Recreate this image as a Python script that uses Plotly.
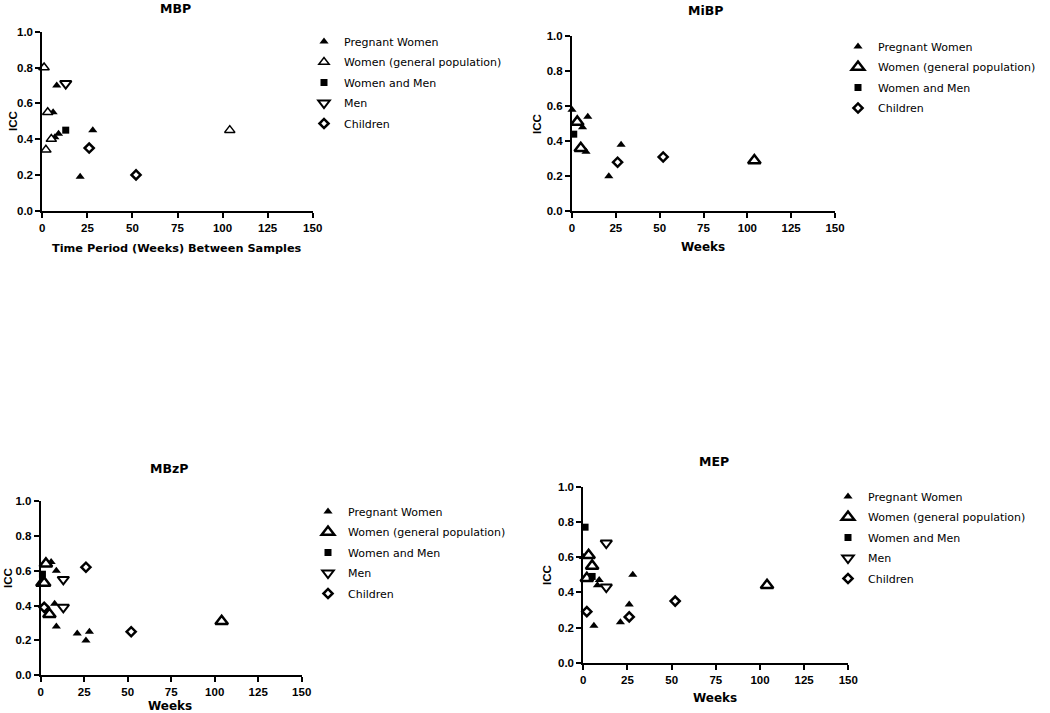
import plotly.graph_objects as go

W, H = 1050, 713

groups = ["Pregnant Women", "Women (general population)", "Women and Men", "Men", "Children"]
panel_titles = ["MBP", "MiBP", "MBzP", "MEP"]
x_titles = ["Time Period (Weeks) Between Samples", "Weeks", "Weeks", "Weeks"]
x_ticks = [0, 25, 50, 75, 100, 125, 150]
y_ticks = [0.0, 0.2, 0.4, 0.6, 0.8, 1.0]
y_ticklabels = ["0.0", "0.2", "0.4", "0.6", "0.8", "1.0"]

# ---- MBP ----
mbp_preg_x = [0, 6, 8, 7, 9, 21, 28]
mbp_preg_y = [0.80, 0.55, 0.70, 0.41, 0.43, 0.19, 0.45]
mbp_women_x = [1, 3, 2, 5, 104]
mbp_women_y = [0.80, 0.55, 0.34, 0.40, 0.45]
mbp_wm_x = [13]
mbp_wm_y = [0.45]
mbp_men_x = [13]
mbp_men_y = [0.71]
mbp_child_x = [26, 52]
mbp_child_y = [0.35, 0.20]

# ---- MiBP ----
mibp_preg_x = [0, 6, 9, 8, 21, 28]
mibp_preg_y = [0.58, 0.48, 0.54, 0.34, 0.20, 0.38]
mibp_women_x = [3, 5, 104]
mibp_women_y = [0.51, 0.36, 0.29]
mibp_wm_x = [1]
mibp_wm_y = [0.44]
mibp_men_x = []
mibp_men_y = []
mibp_child_x = [26, 52]
mibp_child_y = [0.28, 0.31]

# ---- MBzP ----
mbzp_preg_x = [0, 6, 9, 8, 9, 21, 26, 28]
mbzp_preg_y = [0.53, 0.65, 0.60, 0.41, 0.28, 0.24, 0.20, 0.25]
mbzp_women_x = [3, 1, 2, 5, 104]
mbzp_women_y = [0.64, 0.53, 0.53, 0.35, 0.31]
mbzp_wm_x = [1]
mbzp_wm_y = [0.58]
mbzp_men_x = [13, 13]
mbzp_men_y = [0.55, 0.39]
mbzp_child_x = [2, 26, 52]
mbzp_child_y = [0.39, 0.62, 0.25]

# ---- MEP ----
mep_preg_x = [0, 9, 8, 6, 21, 26, 28]
mep_preg_y = [0.60, 0.47, 0.44, 0.21, 0.23, 0.33, 0.50]
mep_women_x = [3, 5, 2, 104]
mep_women_y = [0.61, 0.55, 0.48, 0.44]
mep_wm_x = [1, 5]
mep_wm_y = [0.77, 0.49]
mep_men_x = [13, 13]
mep_men_y = [0.68, 0.43]
mep_child_x = [2, 26, 52]
mep_child_y = [0.29, 0.26, 0.35]

panels = [
    [(mbp_preg_x, mbp_preg_y), (mbp_women_x, mbp_women_y), (mbp_wm_x, mbp_wm_y),
     (mbp_men_x, mbp_men_y), (mbp_child_x, mbp_child_y)],
    [(mibp_preg_x, mibp_preg_y), (mibp_women_x, mibp_women_y), (mibp_wm_x, mibp_wm_y),
     (mibp_men_x, mibp_men_y), (mibp_child_x, mibp_child_y)],
    [(mbzp_preg_x, mbzp_preg_y), (mbzp_women_x, mbzp_women_y), (mbzp_wm_x, mbzp_wm_y),
     (mbzp_men_x, mbzp_men_y), (mbzp_child_x, mbzp_child_y)],
    [(mep_preg_x, mep_preg_y), (mep_women_x, mep_women_y), (mep_wm_x, mep_wm_y),
     (mep_men_x, mep_men_y), (mep_child_x, mep_child_y)],
]

# pixel geometry of each panel: (x0, x150, y_top(1.0), y_bottom(0.0))
geom = [
    (42.3, 312.7, 31.7, 210.7),
    (572.0, 835.0, 36.0, 211.3),
    (40.7, 301.7, 501.0, 675.3),
    (583.3, 848.3, 486.7, 662.7),
]
open_lw = [1.5, 2.5, 2.5, 2.5]
open_size = [9, 11, 11, 11]

# title positions (px)
title_pos = [(175, 8), (705, 11), (169, 468), (714, 461)]
xtitle_pos = [(177, 248), (703, 247), (170, 706), (715, 698)]
ytitle_pos = [(13, 121), (537, 124), (8, 578), (547, 575)]
legend_pos = [(304, 27), (838, 32), (308, 497), (828, 482)]

FONT = "Arial, Liberation Sans, sans-serif"
WIDE = "DejaVu Sans, sans-serif"

fig = go.Figure()

def style(gi, p):
    if gi == 0:
        return dict(symbol="triangle-up", size=8, color="black", line=dict(width=0))
    if gi == 1:
        return dict(symbol="triangle-up", size=open_size[p], color="white",
                    line=dict(color="black", width=open_lw[p]))
    if gi == 2:
        return dict(symbol="square", size=7, color="black", line=dict(width=0))
    if gi == 3:
        return dict(symbol="triangle-down", size=10, color="white",
                    line=dict(color="black", width=2))
    return dict(symbol="diamond", size=7, color="white", line=dict(color="black", width=2.5))

annotations = []
for p, data in enumerate(panels):
    sfx = "" if p == 0 else str(p + 1)
    leg = "legend" if p == 0 else f"legend{p + 1}"
    for gi, (xs, ys) in enumerate(data):
        fig.add_trace(go.Scatter(
            x=xs, y=ys, mode="markers", name=groups[gi],
            xaxis="x" + sfx, yaxis="y" + sfx,
            marker=style(gi, p), cliponaxis=False,
            legend=leg, legendgroup=f"p{p}g{gi}", showlegend=True,
        ))
    x0, x1, yt, yb = geom[p]
    axis_common = dict(showline=True, linecolor="black", linewidth=2, ticks="outside",
                       ticklen=5, tickwidth=2, tickcolor="black", showgrid=False,
                       zeroline=False, mirror=False, automargin=False,
                       tickfont=dict(family=FONT, size=11.5, color="black", weight="bold"))
    fig.update_layout(**{
        "xaxis" + sfx: dict(domain=[x0 / W, x1 / W], range=[0, 150], tickvals=x_ticks,
                            anchor="y" + sfx, fixedrange=True, **axis_common),
        "yaxis" + sfx: dict(domain=[1 - yb / H, 1 - yt / H], range=[0, 1], tickvals=y_ticks,
                            ticktext=y_ticklabels, anchor="x" + sfx, fixedrange=True,
                            **axis_common),
        leg: dict(x=legend_pos[p][0] / W, y=1 - legend_pos[p][1] / H, xanchor="left",
                  yanchor="top", bgcolor="rgba(0,0,0,0)", tracegroupgap=1.5,
                  font=dict(family=WIDE, size=11, color="black"), itemsizing="trace"),
    })
    tx, ty = title_pos[p]
    annotations.append(dict(text=panel_titles[p], x=tx / W, y=1 - ty / H, xref="paper",
                            yref="paper", showarrow=False, xanchor="center", yanchor="middle",
                            font=dict(family=WIDE, size=12.5, color="black", weight="bold")))
    tx, ty = xtitle_pos[p]
    annotations.append(dict(text=x_titles[p], x=tx / W, y=1 - ty / H, xref="paper",
                            yref="paper", showarrow=False, xanchor="center", yanchor="middle",
                            font=dict(family=WIDE, size=12 if p else 11.3, color="black",
                                      weight="bold")))
    tx, ty = ytitle_pos[p]
    annotations.append(dict(text="ICC", x=tx / W, y=1 - ty / H, xref="paper", yref="paper",
                            showarrow=False, xanchor="center", yanchor="middle", textangle=-90,
                            font=dict(family=FONT, size=11.5, color="black", weight="bold")))

fig.update_layout(
    width=W, height=H, margin=dict(l=0, r=0, t=0, b=0, autoexpand=False),
    paper_bgcolor="white", plot_bgcolor="white",
    annotations=annotations, showlegend=True,
)

fig.write_html("out.html", config={"displayModeBar": False},
               post_script="document.body.style.margin='0';document.body.style.overflow='hidden';")
